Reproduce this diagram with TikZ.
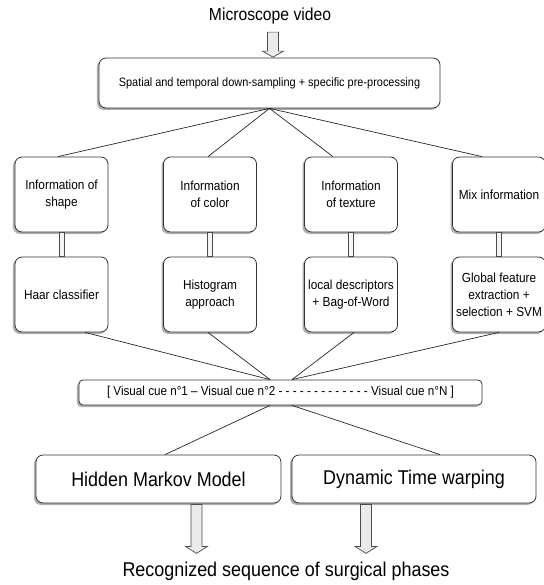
\documentclass[tikz,border=0pt]{standalone}
\usepackage{fontspec}
\setmainfont{Liberation Sans}[FakeStretch=0.9]
\usetikzlibrary{calc,shadows}
\tikzset{
  box/.style={draw=black!80, line width=0.8bp, rounded corners=7bp, fill=white,
    align=center, inner sep=1bp,
    drop shadow={shadow xshift=-2bp, shadow yshift=-2bp, fill=black!45, opacity=0.7}},
  smallbox/.style={box, minimum width=93bp, minimum height=75bp,
    font=\fontsize{13.2}{17}\selectfont},
  conn/.style={draw=black!85, line width=0.7bp},
  dbl/.style={draw=black!70, line width=0.9bp, fill=black!4},
  hollowarrow/.style={draw=black!70, line width=0.7bp, fill=black!8}
}
\begin{document}
\begin{tikzpicture}[x=1bp,y=-1bp]
\useasboundingbox (0,0) rectangle (544,585);
\clip (0,0) rectangle (544,585);

\node[font=\fontsize{17.5}{20}\selectfont] (title) at (270,15.5) {Microscope video};

\node[box, minimum width=341bp, minimum height=50bp, font=\fontsize{12.2}{14}\selectfont]
  (pre) at (269.5,83) {Spatial and temporal down-sampling + specific pre-processing};

% row 1
\node[smallbox] (i1) at (61.5,194.5) {Information of\\shape};
\node[smallbox] (i2) at (210,194.5) {Information\\of color};
\node[smallbox] (i3) at (351,194.5) {Information\\of texture};
\node[smallbox] (i4) at (499,194.5) {Mix information};
% row 2
\node[smallbox] (m1) at (61.5,294.5) {Haar classifier};
\node[smallbox] (m2) at (210,294.5) {Histogram\\approach};
\node[smallbox] (m3) at (351,294.5) {local descriptors\\+ Bag-of-Word};
\node[smallbox] (m4) at (499,294.5) {Global feature\\extraction +\\selection + SVM};

\node[box, rounded corners=4bp, minimum width=403bp, minimum height=25bp,
  font=\fontsize{13}{15}\selectfont] (cue) at (280.5,392.5)
  {[ Visual cue n°1 – Visual cue n°2 - - - - - - - - - - - - - Visual cue n°N ]};

\node[box, minimum width=245bp, minimum height=48bp, font=\fontsize{20}{23}\selectfont]
  (hmm) at (158.5,479) {Hidden Markov Model};
\node[box, minimum width=244bp, minimum height=48bp, font=\fontsize{20}{23}\selectfont]
  (dtw) at (414,479) {Dynamic Time warping};

\node[font=\fontsize{20}{23}\selectfont] (out) at (286,571) {Recognized sequence of surgical phases};

% connectors top box -> row 1
\draw[conn] (pre.south) -- ($(i1.north)+(-3.5,0)$);
\draw[conn] (pre.south) -- ($(i2.north)+(-2,0)$);
\draw[conn] (pre.south) -- ($(i3.north)+(-18,0)$);
\draw[conn] (pre.south) -- ($(i4.north)+(-17,0)$);

% double links
\foreach \k in {1,2,3,4}{
  \draw[dbl] ($(i\k.south)+(-2.5,0.4)$) rectangle ($(m\k.north)+(2.5,-0.4)$);
}

% row 2 -> cue
\coordinate (cl) at ($(cue.north)+(-10.5,0)$);
\coordinate (cr) at ($(cue.north)+(11.5,0)$);
\draw[conn] ($(m1.south)+(23.5,0)$) -- (cl);
\draw[conn] ($(m2.south)+(-2,0)$) -- (cl);
\draw[conn] ($(m3.south)+(3,0)$) -- (cr);
\draw[conn] ($(m4.south)+(0,0)$) -- (cr);

% cue -> methods
\coordinate (bl) at ($(cue.south)+(-10.5,0)$);
\coordinate (br) at ($(cue.south)+(11.5,0)$);
\draw[conn] (bl) -- ($(hmm.north)+(6.5,0)$);
\draw[conn] (br) -- ($(dtw.north)+(26,0)$);

% hollow arrows
\draw[hollowarrow, shift={($(title.south)+(3,5)$)}]
  (-5.5,0) -- (-5.5,19) -- (-10.5,19) -- (0,25) -- (10.5,19) -- (5.5,19) -- (5.5,0) -- cycle;
\draw[hollowarrow, shift={($(hmm.south)+(38,1)$)}]
  (-5.5,0) -- (-5.5,42) -- (-11,42) -- (0,49) -- (11,42) -- (5.5,42) -- (5.5,0) -- cycle;
\draw[hollowarrow, shift={($(dtw.south)+(-48,1)$)}]
  (-5.5,0) -- (-5.5,42) -- (-11,42) -- (0,49) -- (11,42) -- (5.5,42) -- (5.5,0) -- cycle;
\end{tikzpicture}
\end{document}
